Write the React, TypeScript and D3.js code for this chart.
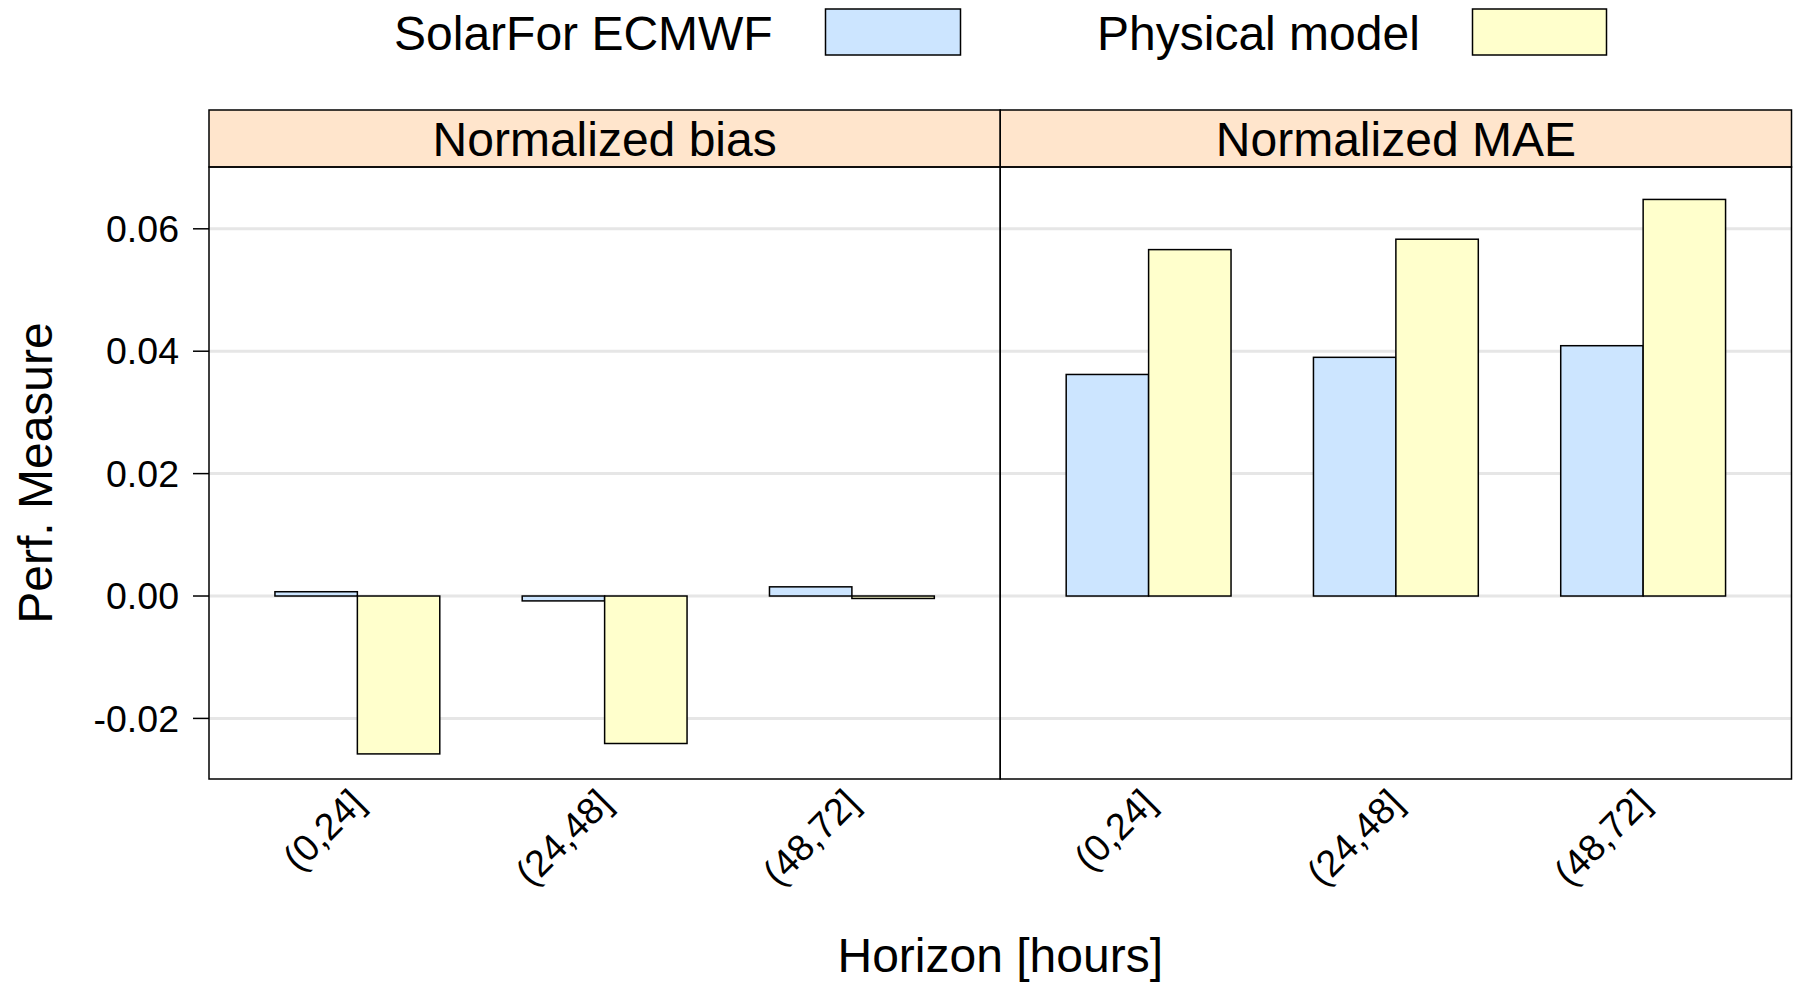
import React from "react";
import * as d3 from "d3";

// values
const horizons = ["(0,24]", "(24,48]", "(48,72]"];
const measures = ["Normalized bias", "Normalized MAE"];
const models = ["SolarFor ECMWF", "Physical model"];
const modelColors = ["#cce5ff", "#ffffcc"];

const solarForBias = [0.0007, -0.0008, 0.0015];
const physicalBias = [-0.0258, -0.0241, -0.0004];
const solarForMAE = [0.0362, 0.039, 0.0409];
const physicalMAE = [0.0566, 0.0583, 0.0648];

const yTicks = [-0.02, 0, 0.02, 0.04, 0.06];

const panelValues = [
  [solarForBias, physicalBias],
  [solarForMAE, physicalMAE],
];

const W = 1793;
const H = 982;
const font = "'Liberation Sans', Arial, Helvetica, sans-serif";

const plotLeft = 209;
const plotRight = 1791.5;
const stripTop = 110;
const stripBottom = 167;
const plotBottom = 779;

export default function App() {
  const panelW = (plotRight - plotLeft) / measures.length;

  const y = d3.scaleLinear().domain([-0.0299, 0.0701]).range([plotBottom, stripBottom]);

  return (
    <svg
      width={W}
      height={H}
      style={{ position: "absolute", left: 0, top: 0, display: "block", background: "#fff" }}
      fontFamily={font}
    >
      {/* legend */}
      <g>
        <text x={394} y={50} fontSize={48} fill="#000">{models[0]}</text>
        <rect x={825.5} y={9} width={135} height={46} fill={modelColors[0]} stroke="#000" strokeWidth={1.5} />
        <text x={1097} y={50} fontSize={48} fill="#000">{models[1]}</text>
        <rect x={1472.5} y={9} width={134} height={46} fill={modelColors[1]} stroke="#000" strokeWidth={1.5} />
      </g>

      {measures.map((m, p) => {
        const left = plotLeft + p * panelW;
        const right = left + panelW;
        const x = d3.scaleLinear().domain([0.4, horizons.length + 0.6]).range([left, right]);
        const bw = x(1 / 3) - x(0);
        return (
          <g key={m}>
            {/* grid */}
            {yTicks.map((t) => (
              <line key={t} x1={left} x2={right} y1={y(t)} y2={y(t)} stroke="#e6e6e6" strokeWidth={3} />
            ))}
            {/* bars */}
            {panelValues[p].map((series, s) =>
              series.map((v, i) => {
                const x0 = x(i + 1) - bw + s * bw;
                const y0 = Math.min(y(v), y(0));
                const h = Math.max(Math.abs(y(v) - y(0)), 1);
                return (
                  <rect
                    key={`${s}-${i}`}
                    x={x0}
                    y={y0}
                    width={bw}
                    height={h}
                    fill={modelColors[s]}
                    stroke="#000"
                    strokeWidth={1.5}
                  />
                );
              })
            )}
            {/* strip */}
            <rect x={left} y={stripTop} width={panelW} height={stripBottom - stripTop} fill="#ffe5cc" stroke="#000" strokeWidth={1.5} />
            <text x={(left + right) / 2} y={156} fontSize={48} textAnchor="middle" fill="#000">{m}</text>
            {/* panel border */}
            <rect x={left} y={stripBottom} width={panelW} height={plotBottom - stripBottom} fill="none" stroke="#000" strokeWidth={1.5} />
            {/* x tick labels */}
            {horizons.map((h, i) => (
              <text
                key={h}
                transform={`translate(${x(i + 1)},${plotBottom + 17}) rotate(-45)`}
                fontSize={37.5}
                textAnchor="end"
                dy="0.35em"
                fill="#000"
              >
                {h}
              </text>
            ))}
          </g>
        );
      })}

      {/* y axis */}
      <g>
        {yTicks.map((t) => (
          <g key={t}>
            <line x1={193} x2={plotLeft} y1={y(t)} y2={y(t)} stroke="#000" strokeWidth={1.5} />
            <text x={179} y={y(t)} dy="0.35em" fontSize={37.5} textAnchor="end" fill="#000">
              {t.toFixed(2)}
            </text>
          </g>
        ))}
      </g>

      <text
        transform={`translate(52,${(stripBottom + plotBottom) / 2}) rotate(-90)`}
        fontSize={48}
        textAnchor="middle"
        fill="#000"
      >
        Perf. Measure
      </text>
      <text x={(plotLeft + plotRight) / 2} y={972} fontSize={48} textAnchor="middle" fill="#000">
        Horizon [hours]
      </text>
    </svg>
  );
}
